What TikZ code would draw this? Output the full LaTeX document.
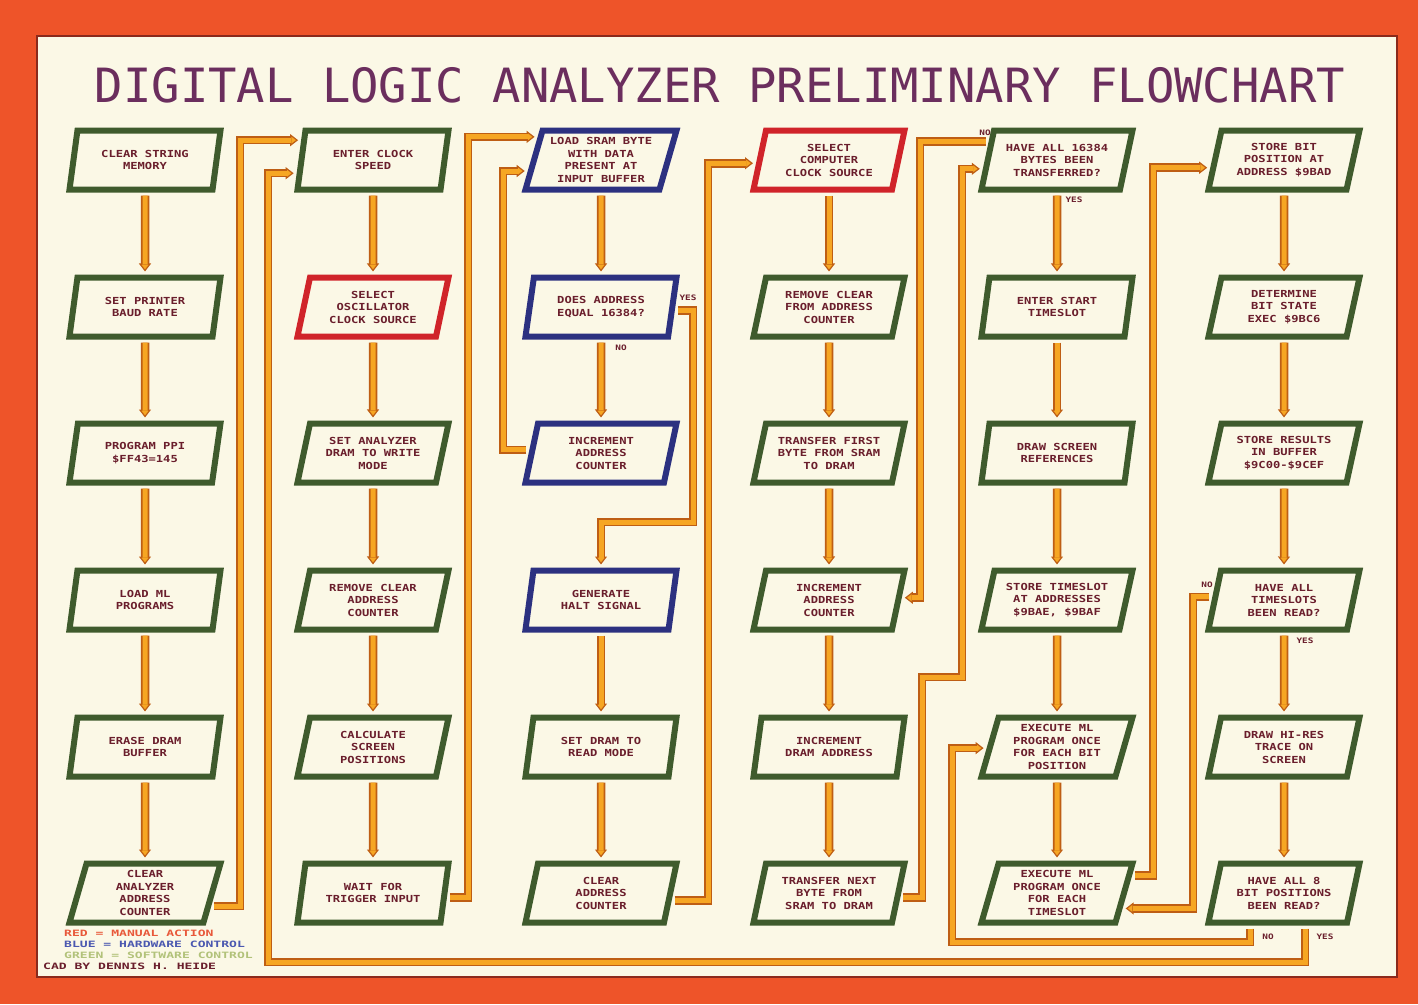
\documentclass[tikz,border=0pt]{standalone}
\usepackage{fontspec}
\usetikzlibrary{shapes.geometric,arrows.meta,calc}
\newfontfamily\boxfont{DejaVu Sans Mono}[FakeStretch=1.25]
\newfontfamily\legfont{DejaVu Sans Mono}[FakeStretch=1.5]
\newfontfamily\titlefont{DejaVu Sans Mono}
\definecolor{cframe}{HTML}{EE5429}
\definecolor{cpaper}{HTML}{FBF8E6}
\definecolor{cline}{HTML}{8A2A1C}
\definecolor{cgreen}{HTML}{3F5B2D}
\definecolor{cred}{HTML}{D0242A}
\definecolor{cblue}{HTML}{2C3180}
\definecolor{ctext}{HTML}{6A1E2C}
\definecolor{ctitle}{HTML}{6B2E5E}
\definecolor{corange}{HTML}{F6A623}
\definecolor{cbrown}{HTML}{BE5E14}
\definecolor{lred}{HTML}{E8583A}
\definecolor{lblue}{HTML}{4B58B0}
\definecolor{lgreen}{HTML}{B2C27A}
\newcommand\conn[1]{\draw[cbase] #1; \draw[ctop] #1;}
\begin{document}
\begin{tikzpicture}[x=1pt,y=-1pt,
  box/.style={trapezium, trapezium left angle=70, trapezium right angle=110,
    trapezium stretches body=true, minimum width=151, minimum height=59,
    inner sep=1pt, line width=6pt, draw=cgreen, fill=cpaper, text=ctext,
    align=center, font=\boxfont\bfseries\fontsize{9.7}{12.5}\selectfont},
  hwbox/.style={box, draw=cblue},
  manbox/.style={box, draw=cred},
  cbase/.style={draw=cbrown, line width=8.5pt, line join=miter, shorten <=3pt, shorten >=3pt,
    -{Triangle[length=8pt 0 0, width=12pt 0 0, line width=1.2pt 0, fill=corange]}},
  ctop/.style={draw=corange, line width=5pt, line join=miter, shorten <=3pt, shorten >=10pt},
  lab/.style={inner sep=0pt, text=ctext, font=\boxfont\bfseries\fontsize{7.5}{8}\selectfont},
  leg/.style={anchor=west, inner sep=0pt, font=\legfont\bfseries\fontsize{8.7}{9}\selectfont}]
\fill[cframe] (0,0) rectangle (1418,1004);
\draw[cline, line width=1.5pt, fill=cpaper] (37,36) rectangle (1397,977);
\useasboundingbox (0,0) rectangle (1418,1004);

\node[text=ctitle, inner sep=0pt, font=\titlefont\fontsize{47.2}{48}\selectfont] (title) at (720,85)
  {DIGITAL LOGIC ANALYZER PRELIMINARY FLOWCHART};

% column 1
\node[box] (c11) at (145,160) {CLEAR STRING\\MEMORY};
\node[box] (c12) at (145,307) {SET PRINTER\\BAUD RATE};
\node[box] (c13) at (145,453) {PROGRAM PPI\\\$FF43=145};
\node[box] (c14) at (145,600) {LOAD ML\\PROGRAMS};
\node[box] (c15) at (145,747) {ERASE DRAM\\BUFFER};
\node[box] (c16) at (145,893) {CLEAR\\ANALYZER\\ADDRESS\\COUNTER};
% column 2
\node[box] (c21) at (373,160) {ENTER CLOCK\\SPEED};
\node[manbox] (c22) at (373,307) {SELECT\\OSCILLATOR\\CLOCK SOURCE};
\node[box] (c23) at (373,453) {SET ANALYZER\\DRAM TO WRITE\\MODE};
\node[box] (c24) at (373,600) {REMOVE CLEAR\\ADDRESS\\COUNTER};
\node[box] (c25) at (373,747) {CALCULATE\\SCREEN\\POSITIONS};
\node[box] (c26) at (373,893) {WAIT FOR\\TRIGGER INPUT};
% column 3
\node[hwbox] (c31) at (601,160) {LOAD SRAM BYTE\\WITH DATA\\PRESENT AT\\INPUT BUFFER};
\node[hwbox] (c32) at (601,307) {DOES ADDRESS\\EQUAL 16384?};
\node[hwbox] (c33) at (601,453) {INCREMENT\\ADDRESS\\COUNTER};
\node[hwbox] (c34) at (601,600) {GENERATE\\HALT SIGNAL};
\node[box] (c35) at (601,747) {SET DRAM TO\\READ MODE};
\node[box] (c36) at (601,893) {CLEAR\\ADDRESS\\COUNTER};
% column 4
\node[manbox] (c41) at (829,160) {SELECT\\COMPUTER\\CLOCK SOURCE};
\node[box] (c42) at (829,307) {REMOVE CLEAR\\FROM ADDRESS\\COUNTER};
\node[box] (c43) at (829,453) {TRANSFER FIRST\\BYTE FROM SRAM\\TO DRAM};
\node[box] (c44) at (829,600) {INCREMENT\\ADDRESS\\COUNTER};
\node[box] (c45) at (829,747) {INCREMENT\\DRAM ADDRESS};
\node[box] (c46) at (829,893) {TRANSFER NEXT\\BYTE FROM\\SRAM TO DRAM};
% column 5
\node[box] (c51) at (1057,160) {HAVE ALL 16384\\BYTES BEEN\\TRANSFERRED?};
\node[box] (c52) at (1057,307) {ENTER START\\TIMESLOT};
\node[box] (c53) at (1057,453) {DRAW SCREEN\\REFERENCES};
\node[box] (c54) at (1057,600) {STORE TIMESLOT\\AT ADDRESSES\\\$9BAE, \$9BAF};
\node[box] (c55) at (1057,747) {EXECUTE ML\\PROGRAM ONCE\\FOR EACH BIT\\POSITION};
\node[box] (c56) at (1057,893) {EXECUTE ML\\PROGRAM ONCE\\FOR EACH\\TIMESLOT};
% column 6
\node[box] (c61) at (1284,160) {STORE BIT\\POSITION AT\\ADDRESS \$9BAD};
\node[box] (c62) at (1284,307) {DETERMINE\\BIT STATE\\EXEC \$9BC6};
\node[box] (c63) at (1284,453) {STORE RESULTS\\IN BUFFER\\\$9C00-\$9CEF};
\node[box] (c64) at (1284,600) {HAVE ALL\\TIMESLOTS\\BEEN READ?};
\node[box] (c65) at (1284,747) {DRAW HI-RES\\TRACE ON\\SCREEN};
\node[box] (c66) at (1284,893) {HAVE ALL 8\\BIT POSITIONS\\BEEN READ?};

% side points
\coordinate (c16r) at ($(c16.right side)!0.407!(c16.bottom right corner)$);
\coordinate (c21a) at ($(c21.left side)!-0.61!(c21.bottom left corner)$);
\coordinate (c21b) at ($(c21.left side)!0.407!(c21.bottom left corner)$);
\coordinate (c26r) at ($(c26.right side)!0.136!(c26.bottom right corner)$);
\coordinate (c31a) at ($(c31.left side)!-0.712!(c31.bottom left corner)$);
\coordinate (c31b) at ($(c31.left side)!0.339!(c31.bottom left corner)$);
\coordinate (c32r) at ($(c32.right side)!0.1!(c32.bottom right corner)$);
\coordinate (c33l) at ($(c33.left side)!-0.1!(c33.bottom left corner)$);
\coordinate (c36r) at ($(c36.right side)!0.237!(c36.bottom right corner)$);
\coordinate (c41l) at ($(c41.left side)!0.1!(c41.bottom left corner)$);
\coordinate (c44r) at ($(c44.right side)!-0.07!(c44.bottom right corner)$);
\coordinate (c46r) at ($(c46.right side)!0.136!(c46.bottom right corner)$);
\coordinate (c51a) at ($(c51.left side)!-0.576!(c51.bottom left corner)$);
\coordinate (c51b) at ($(c51.left side)!0.271!(c51.bottom left corner)$);
\coordinate (c55l) at ($(c55.left side)!0.034!(c55.bottom left corner)$);
\coordinate (c56a) at ($(c56.right side)!-0.542!(c56.bottom right corner)$);
\coordinate (c56b) at ($(c56.right side)!0.475!(c56.bottom right corner)$);
\coordinate (c61l) at ($(c61.left side)!0.237!(c61.bottom left corner)$);
\coordinate (c64l) at ($(c64.left side)!-0.1!(c64.bottom left corner)$);
\coordinate (c66no) at ([xshift=-34pt]c66.south);
\coordinate (c66yes) at ([xshift=21pt]c66.south);

% straight column arrows
\foreach \c in {1,2,4,5,6}{
  \foreach \r/\s in {1/2,2/3,3/4,4/5,5/6}{
    \conn{(c\c\r.south) -- (c\c\s.north)}
  }
}
\conn{(c31.south) -- (c32.north)}
\conn{(c32.south) -- (c33.north)}
\conn{(c34.south) -- (c35.north)}
\conn{(c35.south) -- (c36.north)}

% routed connectors
\conn{(c16r) -| (240,500) |- (c21a)}
\conn{(c26r) -| (468,500) |- (c31a)}
\conn{(c33l) -| (503,300) |- (c31b)}
\conn{(c32r) -| (693,522) -| (c34.north)}
\conn{(c36r) -| (708,500) |- (c41l)}
\conn{(c51a) -| (920,400) |- (c44r)}
\conn{(c46r) -| (922,677) -| (962,400) |- (c51b)}
\conn{(c66no) |- (952,942) |- (c55l)}
\conn{(c66yes) |- (268,962) |- (c21b)}
\conn{(c56a) -| (1153,500) |- (c61l)}
\conn{(c64l) -| (1193,750) |- (c56b)}

% decision labels
\node[lab] (l1) at (621,348) {NO};
\node[lab] (l2) at (688,298) {YES};
\node[lab] (l3) at (985,133) {NO};
\node[lab] (l4) at (1074,200) {YES};
\node[lab] (l5) at (1207,585) {NO};
\node[lab] (l6) at (1305,641) {YES};
\node[lab] (l7) at (1268,937) {NO};
\node[lab] (l8) at (1325,937) {YES};

% legend
\node[leg, text=lred] (lg1) at (64,933) {RED = MANUAL ACTION};
\node[leg, text=lblue] (lg2) at (64,944) {BLUE = HARDWARE CONTROL};
\node[leg, text=lgreen] (lg3) at (64,955) {GREEN = SOFTWARE CONTROL};
\node[leg, text=ctext] (lg4) at (43,966) {CAD BY DENNIS H. HEIDE};
\end{tikzpicture}
\end{document}
